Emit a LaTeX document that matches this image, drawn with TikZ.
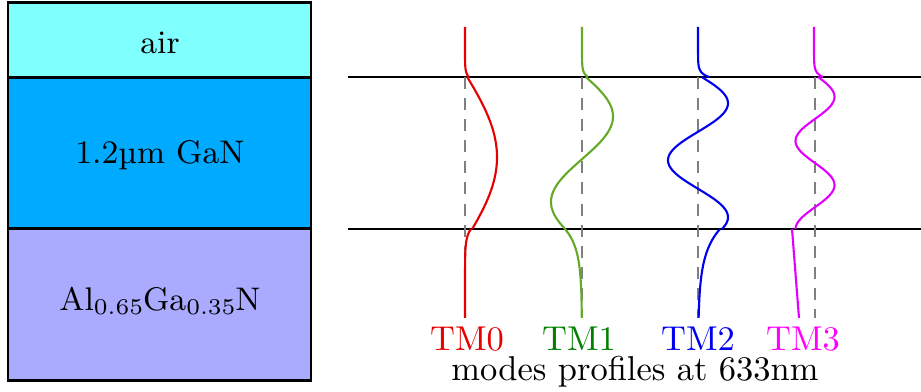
\documentclass[tikz,border=0pt]{standalone}
\usepackage{fontspec}
\definecolor{aircol}{RGB}{128,255,255}
\definecolor{gancol}{RGB}{0,170,255}
\definecolor{algancol}{RGB}{170,170,255}
\definecolor{tmzero}{RGB}{230,0,0}
\definecolor{tmonecurve}{RGB}{100,170,40}
\definecolor{tmonelabel}{RGB}{0,128,0}
\definecolor{tmtwo}{RGB}{0,0,240}
\definecolor{tmthree}{RGB}{225,0,255}
\definecolor{tmthreelabel}{RGB}{255,0,255}
\newcommand{\mysub}[1]{\raisebox{-1.1pt}{\fontsize{6.4}{7}\selectfont #1}}
\tikzset{
  layer/.style={draw=black, line width=0.85pt},
  iface/.style={draw=black, line width=0.4pt},
  guide/.style={draw=gray, line width=0.4pt, dash pattern=on 3.4pt off 2.6pt},
  mode/.style={line width=0.6pt},
  lbl/.style={inner sep=0pt, font=\fontsize{9.8}{12}\selectfont},
  boxlbl/.style={inner sep=0pt, font=\fontsize{9.3}{11}\selectfont}
}
\begin{document}
\begin{tikzpicture}[x=0.01cm,y=-0.01cm]
\useasboundingbox (0,0) rectangle (921,392);
% layer stack
\fill[aircol] (8,3) rectangle (311,78);
\fill[gancol] (8,78) rectangle (311,229);
\fill[algancol] (8,229) rectangle (311,381);
\draw[layer] (8,3) rectangle (311,381);
\draw[layer] (8,78) -- (311,78);
\draw[layer] (8,229) -- (311,229);
\node[boxlbl] (air) at (160,43) {air};
\node[boxlbl] (gan) at (160,155) {1.2µm GaN};
\node[boxlbl] (algan) at (160,301) {Al\mysub{0.65}Ga\mysub{0.35}N};
% interfaces
\coordinate (t1) at (348,77); \coordinate (t2) at (921,77);
\coordinate (b1) at (348,229); \coordinate (b2) at (921,229);
\draw[iface] (t1) -- (t2);
\draw[iface] (b1) -- (b2);
% guides
\foreach \c/\n in {465/g0,582/g1,698/g2,815/g3}{
  \coordinate (\n a) at (\c,77); \coordinate (\n b) at (\c,318);
  \draw[guide] (\n a) -- (\n b);
}
% TM0
\begin{scope}[tmzero, mode]
\draw plot[variable=\t, domain=27:77, samples=40] ({465+4*exp((\t-77)/4)}, \t);
\draw plot[variable=\t, domain=77:229, samples=80] ({465+32*sin(4+(\t-77)/152*163)}, \t);
\draw plot[variable=\t, domain=229:318, samples=50] ({465+6*exp(-(\t-229)/8)}, \t);
\end{scope}
% TM1
\begin{scope}[tmonecurve, mode]
\draw plot[variable=\t, domain=27:77, samples=40] ({582+6*exp((\t-77)/4)}, \t);
\draw plot[variable=\t, domain=77:229, samples=80] ({582+31*sin(7+(\t-77)/152*320)}, \t);
\draw plot[variable=\t, domain=229:318, samples=50] ({582-17*exp(-(\t-229)/20)}, \t);
\end{scope}
% TM2
\begin{scope}[tmtwo, mode]
\draw plot[variable=\t, domain=27:77, samples=40] ({698+11*exp((\t-77)/4)}, \t);
\draw plot[variable=\t, domain=77:229, samples=100] ({698+30*sin(7+(\t-77)/152*480)}, \t);
\draw plot[variable=\t, domain=229:318, samples=50] ({698+22*exp(-(\t-229)/25)}, \t);
\end{scope}
% TM3
\begin{scope}[tmthree, mode]
\draw plot[variable=\t, domain=27:77, samples=40] ({814+9*exp((\t-77)/4)}, \t);
\draw plot[variable=\t, domain=77:229, samples=100] ({815+19.5*sin(9+(\t-77)/152*620)}, \t);
\coordinate (m3a) at (792,229); \coordinate (m3b) at (799,318);
\draw (m3a) -- (m3b);
\end{scope}
% labels
\node[lbl, text=tmzero] (l0) at (467,339) {TM0};
\node[lbl, text=tmonelabel] (l1) at (579,339) {TM1};
\node[lbl, text=tmtwo] (l2) at (698,339) {TM2};
\node[lbl, text=tmthreelabel] (l3) at (803,339) {TM3};
\node[lbl] (cap) at (635,372) {modes profiles at 633nm};
\end{tikzpicture}
\end{document}
